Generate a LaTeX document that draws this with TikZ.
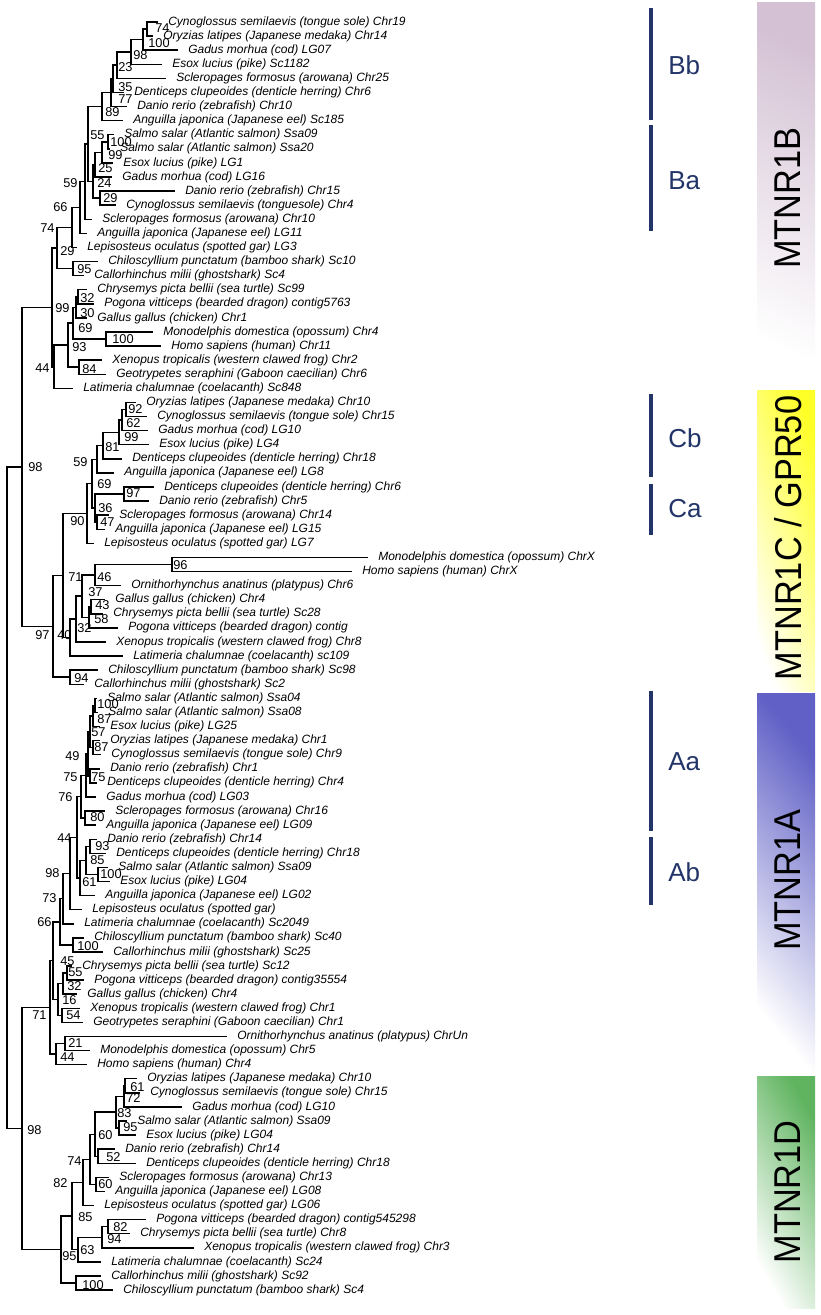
\documentclass[tikz,border=0pt]{standalone}
\usepackage{fontspec}
\setmainfont{Liberation Sans}
\usetikzlibrary{calc}
\definecolor{navy}{RGB}{34,52,104}
\definecolor{grpB}{RGB}{212,194,212}
\definecolor{grpC}{RGB}{255,255,40}
\definecolor{grpA}{RGB}{96,96,198}
\definecolor{grpD}{RGB}{96,180,96}
\newcommand\clade[4]{%
  \path let \p1=(#3), \p2=(#4) in ({#2*0.75pt},{0.5*(\y1+\y2)}) coordinate (#1);
  \draw[branch] (#3) -| (#1) |- (#4);}
\begin{document}
\begin{tikzpicture}[x=0.75pt,y=-0.75pt,
  branch/.style={line width=1.1pt,line join=miter,line cap=rect},
  leaf/.style={anchor=west,inner sep=0pt,font=\fontsize{9}{10}\selectfont\itshape},
  boot/.style={anchor=west,inner sep=0pt,font=\fontsize{9.6}{10}\selectfont},
  clab/.style={anchor=west,inner sep=0pt,text=navy,font=\fontsize{19.5}{22}\selectfont},
  cbar/.style={draw=navy,line width=3pt},
  gname/.style={rotate=90,inner sep=0pt,font=\fontsize{28}{32}\selectfont}]
\fill[white] (0,0) rectangle (821,1315);
\useasboundingbox (0,0) rectangle (821,1315);

% coloured group bars
\shade[bottom color=white, top color=grpB, shading angle=-25] (757,2) rectangle (815,388);
\shade[bottom color=white, top color=grpC, shading angle=-70] (757,390) rectangle (815,691);
\shade[bottom color=white, top color=grpA, shading angle=-50] (757,693) rectangle (815,1073);
\shade[bottom color=white, top color=grpD, shading angle=-60] (757,1076) rectangle (815,1308);
\node[gname] (gB) at (788,198) {\scalebox{0.92}[1]{MTNR1B}};
\node[gname] (gC) at (788,538) {\scalebox{0.92}[1]{MTNR1C / GPR50}};
\node[gname] (gA) at (788,880) {\scalebox{0.92}[1]{MTNR1A}};
\node[gname] (gD) at (788,1192) {\scalebox{0.92}[1]{MTNR1D}};

% sub-clade bars
\draw[cbar] (651,8) -- (651,120);   \node[clab] (lBb) at (668,65) {Bb};
\draw[cbar] (651,125) -- (651,231); \node[clab] (lBa) at (668,181) {Ba};
\draw[cbar] (651,394) -- (651,477); \node[clab] (lCb) at (668,438) {Cb};
\draw[cbar] (651,484) -- (651,535); \node[clab] (lCa) at (668,509) {Ca};
\draw[cbar] (651,691) -- (651,831); \node[clab] (lAa) at (668,762) {Aa};
\draw[cbar] (651,837) -- (651,905); \node[clab] (lAb) at (668,872) {Ab};

% leaves
\foreach \k/\tx/\lab in {
1/168/{Cynoglossus semilaevis (tongue sole) Chr19},
2/163/{Oryzias latipes (Japanese medaka) Chr14},
3/188/{Gadus morhua (cod) LG07},
4/172/{Esox lucius (pike) Sc1182},
5/176/{Scleropages formosus (arowana) Chr25},
6/134/{Denticeps clupeoides (denticle herring) Chr6},
7/137/{Danio rerio (zebrafish) Chr10},
8/133/{Anguilla japonica (Japanese eel) Sc185},
9/124/{Salmo salar (Atlantic salmon) Ssa09},
10/120/{Salmo salar (Atlantic salmon) Ssa20},
11/123/{Esox lucius (pike) LG1},
12/122/{Gadus morhua (cod) LG16},
13/185/{Danio rerio (zebrafish) Chr15},
14/126/{Cynoglossus semilaevis (tonguesole) Chr4},
15/102/{Scleropages formosus (arowana) Chr10},
16/97/{Anguilla japonica (Japanese eel) LG11},
17/87/{Lepisosteus oculatus (spotted gar) LG3},
18/108/{Chiloscyllium punctatum (bamboo shark) Sc10},
19/94/{Callorhinchus milii (ghostshark) Sc4},
20/97/{Chrysemys picta bellii (sea turtle) Sc99},
21/104/{Pogona vitticeps (bearded dragon) contig5763},
22/97/{Gallus gallus (chicken) Chr1},
23/163/{Monodelphis domestica (opossum) Chr4},
24/171/{Homo sapiens (human) Chr11},
25/112/{Xenopus tropicalis (western clawed frog) Chr2},
26/116/{Geotrypetes seraphini (Gaboon caecilian) Chr6},
27/83/{Latimeria chalumnae (coelacanth) Sc848},
28/146/{Oryzias latipes (Japanese medaka) Chr10},
29/157/{Cynoglossus semilaevis (tongue sole) Chr15},
30/158/{Gadus morhua (cod) LG10},
31/159/{Esox lucius (pike) LG4},
32/132/{Denticeps clupeoides (denticle herring) Chr18},
33/124/{Anguilla japonica (Japanese eel) LG8},
34/164/{Denticeps clupeoides (denticle herring) Chr6},
35/159/{Danio rerio (zebrafish) Chr5},
36/119/{Scleropages formosus (arowana) Chr14},
37/115/{Anguilla japonica (Japanese eel) LG15},
38/104/{Lepisosteus oculatus (spotted gar) LG7},
39/378/{Monodelphis domestica (opossum) ChrX},
40/362/{Homo sapiens (human) ChrX},
41/131/{Ornithorhynchus anatinus (platypus) Chr6},
42/115/{Gallus gallus (chicken) Chr4},
43/113/{Chrysemys picta bellii (sea turtle) Sc28},
44/128/{Pogona vitticeps (bearded dragon) contig},
45/116/{Xenopus tropicalis (western clawed frog) Chr8},
46/133/{Latimeria chalumnae (coelacanth) sc109},
47/108/{Chiloscyllium punctatum (bamboo shark) Sc98},
48/94/{Callorhinchus milii (ghostshark) Sc2},
49/107/{Salmo salar (Atlantic salmon) Ssa04},
50/108/{Salmo salar (Atlantic salmon) Ssa08},
51/110/{Esox lucius (pike) LG25},
52/110/{Oryzias latipes (Japanese medaka) Chr1},
53/111/{Cynoglossus semilaevis (tongue sole) Chr9},
54/110/{Danio rerio (zebrafish) Chr1},
55/107/{Denticeps clupeoides (denticle herring) Chr4},
56/106/{Gadus morhua (cod) LG03},
57/115/{Scleropages formosus (arowana) Chr16},
58/106/{Anguilla japonica (Japanese eel) LG09},
59/107/{Danio rerio (zebrafish) Chr14},
60/116/{Denticeps clupeoides (denticle herring) Chr18},
61/118/{Salmo salar (Atlantic salmon) Ssa09},
62/120/{Esox lucius (pike) LG04},
63/105/{Anguilla japonica (Japanese eel) LG02},
64/92/{Lepisosteus oculatus (spotted gar)},
65/84/{Latimeria chalumnae (coelacanth) Sc2049},
66/94/{Chiloscyllium punctatum (bamboo shark) Sc40},
67/113/{Callorhinchus milii (ghostshark) Sc25},
68/82/{Chrysemys picta bellii (sea turtle) Sc12},
69/94/{Pogona vitticeps (bearded dragon) contig35554},
70/87/{Gallus gallus (chicken) Chr4},
71/90/{Xenopus tropicalis (western clawed frog) Chr1},
72/93/{Geotrypetes seraphini (Gaboon caecilian) Chr1},
73/237/{Ornithorhynchus anatinus (platypus) ChrUn},
74/100/{Monodelphis domestica (opossum) Chr5},
75/97/{Homo sapiens (human) Chr4},
76/147/{Oryzias latipes (Japanese medaka) Chr10},
77/150/{Cynoglossus semilaevis (tongue sole) Chr15},
78/192/{Gadus morhua (cod) LG10},
79/137/{Salmo salar (Atlantic salmon) Ssa09},
80/146/{Esox lucius (pike) LG04},
81/125/{Danio rerio (zebrafish) Chr14},
82/146/{Denticeps clupeoides (denticle herring) Chr18},
83/119/{Scleropages formosus (arowana) Chr13},
84/115/{Anguilla japonica (Japanese eel) LG08},
85/104/{Lepisosteus oculatus (spotted gar) LG06},
86/156/{Pogona vitticeps (bearded dragon) contig545298},
87/140/{Chrysemys picta bellii (sea turtle) Chr8},
88/204/{Xenopus tropicalis (western clawed frog) Chr3},
89/111/{Latimeria chalumnae (coelacanth) Sc24},
90/111/{Callorhinchus milii (ghostshark) Sc92},
91/123/{Chiloscyllium punctatum (bamboo shark) Sc4}}{
  \coordinate (L\k) at ({\tx-11},{22+(\k-1)*14.09});
  \node[leaf] (T\k) at (\tx,{22+(\k-1)*14.09}) {\lab};
}

% MTNR1B
\clade{a}{147}{L1}{L2}
\clade{b}{143}{a}{L3}
\clade{c}{131}{b}{L4}
\clade{d}{117}{c}{L5}
\clade{e}{113}{d}{L6}
\clade{f}{111}{e}{L7}
\clade{g}{102}{f}{L8}
\clade{h}{108}{L9}{L10}
\clade{i}{102}{h}{L11}
\clade{j}{95}{i}{L12}
\clade{k}{100}{L13}{L14}
\clade{l}{93}{j}{k}
\clade{p}{88}{g}{l}
\clade{q}{85}{p}{L15}
\clade{r}{80}{q}{L16}
\clade{s}{72}{r}{L17}
\clade{sh}{73}{L18}{L19}
\clade{t}{57}{s}{sh}
\clade{u1}{78}{L20}{L21}
\clade{u2}{76}{u1}{L22}
\clade{u3}{106}{L23}{L24}
\clade{u4}{73}{u2}{u3}
\clade{u5}{79}{L25}{L26}
\clade{u6}{68}{u4}{u5}
\clade{u7}{54}{u6}{L27}
\clade{w}{52}{t}{u7}
% MTNR1C
\clade{c92}{126}{L28}{L29}
\clade{c62}{122}{c92}{L30}
\clade{c99}{119}{c62}{L31}
\clade{c81}{103}{c99}{L32}
\clade{c59}{97}{c81}{L33}
\clade{c97}{124}{L34}{L35}
\clade{c47}{97}{L36}{L37}
\clade{c36}{95}{c97}{c47}
\clade{c69}{92}{c59}{c36}
\clade{c90}{87}{c69}{L38}
\clade{c96}{172}{L39}{L40}
\clade{c46}{95}{c96}{L41}
\clade{c43}{91}{L42}{L43}
\clade{c58}{89}{c43}{L44}
\clade{c37}{82}{c46}{c58}
\clade{c32}{76}{c37}{L45}
\clade{c40}{70}{c32}{L46}
\clade{c71}{63}{c90}{c40}
\clade{c94}{70}{L47}{L48}
\clade{cR}{53}{c71}{c94}
\clade{BC}{22}{w}{cR}
% MTNR1A
\clade{a100}{95}{L49}{L50}
\clade{a87}{93}{a100}{L51}
\clade{a87b}{93}{L52}{L53}
\clade{a57}{90}{a87}{a87b}
\clade{a75b}{90}{L54}{L55}
\clade{a49}{88}{a57}{a75b}
\clade{a75}{86}{a49}{L56}
\clade{a80}{85}{L57}{L58}
\clade{a76}{81}{a75}{a80}
\clade{a93}{90}{L59}{L60}
\clade{a100b}{98}{L61}{L62}
\clade{a85}{86}{a93}{a100b}
\clade{a61}{80}{a85}{L63}
\clade{a44}{77}{a76}{a61}
\clade{a98}{70}{a44}{L64}
\clade{a73}{63}{a98}{L65}
\clade{a100s}{73}{L66}{L67}
\clade{a66}{60}{a73}{a100s}
\clade{a55}{67}{L68}{L69}
\clade{a32}{63}{a55}{L70}
\clade{a54}{62}{L71}{L72}
\clade{a16}{58}{a32}{a54}
\clade{a45}{53}{a66}{a16}
\clade{a21}{65}{L73}{L74}
\clade{a44m}{56}{a21}{L75}
\clade{a71}{50}{a45}{a44m}
% MTNR1D
\clade{d61}{125}{L76}{L77}
\clade{d72}{124}{d61}{L78}
\clade{d95}{119}{L79}{L80}
\clade{d83}{116}{d72}{d95}
\clade{d52}{98}{L81}{L82}
\clade{d60}{95}{d83}{d52}
\clade{d60b}{96}{L83}{L84}
\clade{d74}{90}{d60}{d60b}
\clade{d82}{83}{d74}{L85}
\clade{d82b}{108}{L86}{L87}
\clade{d94}{102}{d82b}{L88}
\clade{d63}{78}{d94}{L89}
\clade{d85}{72}{d82}{d63}
\clade{d100}{76}{L90}{L91}
\clade{d95r}{61}{d85}{d100}
\clade{AD}{22}{a71}{d95r}
\clade{root}{7}{BC}{AD}

% support values
\foreach \nm/\bx/\by/\bt in {
a/155/28/74, b/148/43/100, c/133/55/98, d/118/67/23, e/118/87/35, f/118/99/77, g/105/112/89,
h/110/142/100, i/108/155/99, j/98/168/25, k/103/198/29, l/97/183/24, p/90/135/55, q/63/183/59,
r/53/207/66, s/60/251/29, sh/77/269/95, t/40/228/74, u1/80/298/32, u2/80/313/30, u3/112/339/100,
u4/78/328/69, u5/82/369/84, u6/72/347/93, u7/35/368/44, w/55/308/99,
c92/128/409/92, c62/126/423/62, c99/124/437/99, c81/105/447/81, c59/73/462/59, c97/126/493/97,
c47/100/522/47, c36/98/508/36, c69/97/484/69, c90/70/521/90, c96/173/565/96, c46/97/577/46,
c43/95/605/43, c58/94/619/58, c37/88/592/37, c32/77/628/32, c40/57/635/40, c71/68/577/71,
c94/74/678/94, cR/35/635/97, BC/28/467/98,
a100/97/704/100, a87/97/719/87, a87b/94/747/87, a57/91/732/57, a75b/91/777/75, a49/65/756/49,
a75/63/777/75, a80/90/817/80, a76/58/797/76, a93/95/846/93, a100b/100/874/100, a85/90/860/85,
a61/82/882/61, a44/57/838/44, a98/45/873/98, a73/42/898/73, a100s/77/946/100, a66/37/922/66,
a55/68/972/55, a32/67/986/32, a54/66/1015/54, a16/62/1000/16, a45/60/961/45, a21/68/1043/21,
a44m/60/1057/44, a71/32/1015/71,
d61/130/1087/61, d72/126/1098/72, d95/123/1127/95, d83/117/1113/83, d52/106/1157/52,
d60/98/1135/60, d60b/98/1184/60, d74/67/1161/74, d82/53/1183/82, d82b/113/1227/82,
d94/107/1239/94, d63/80/1250/63, d85/78/1217/85, d100/82/1285/100, d95r/62/1256/95, AD/27/1130/98}{
  \node[boot] (bs-\nm) at (\bx,\by) {\bt};
}
\end{tikzpicture}
\end{document}
